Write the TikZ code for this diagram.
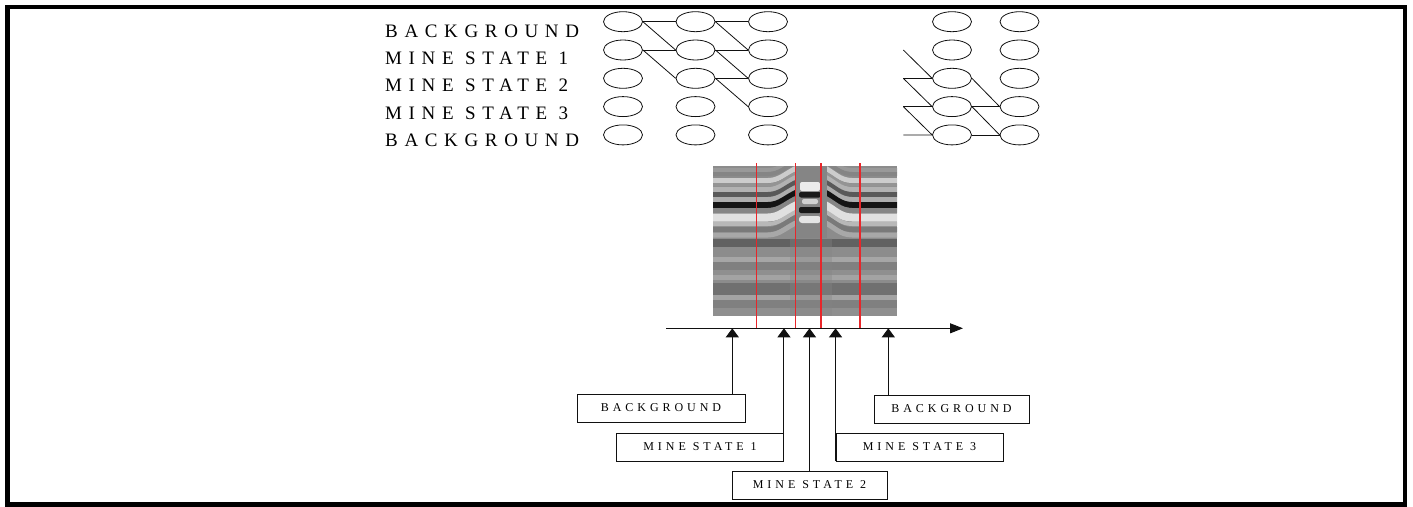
\documentclass[tikz,border=0pt]{standalone}
\usepackage{fontspec}
\setmainfont{Liberation Serif}
\newfontfamily\spacedfont[LetterSpace=35]{Liberation Serif}
\newfontfamily\tagfont[LetterSpace=33]{Liberation Serif}
\usepackage{xcolor}
\usepackage{tikz}
\usetikzlibrary{arrows.meta,positioning,shapes.geometric}
\definecolor{inkblack}{HTML}{111111}
\definecolor{cutred}{HTML}{E8262A}

\begin{document}
\begin{tikzpicture}[
    x=1pt, y=-1pt,
    rowlabel/.style={anchor=west, inner sep=0pt, font=\spacedfont\fontsize{19}{21}\selectfont},
    cell/.style={ellipse, draw=inkblack, line width=0.8pt, minimum width=39pt, minimum height=20pt, inner sep=0pt},
    link/.style={draw=inkblack, line width=0.8pt},
    tag/.style={rectangle, draw=inkblack, line width=0.9pt, minimum height=28pt, inner sep=0pt, font=\tagfont\fontsize{12}{14}\selectfont},
    pointer/.style={-{Triangle[length=9pt,width=13pt]}, line width=1pt, inkblack},
    cut/.style={cutred, line width=1.3pt}
]
\useasboundingbox (0,0) rectangle (1413,506);

% State labels
\node[rowlabel] (lab1) at (385,31) {BACKGROUND};
\node[rowlabel] (lab2) at (385,58.5) {MINE STATE 1};
\node[rowlabel] (lab3) at (385,85) {MINE STATE 2};
\node[rowlabel] (lab4) at (385,113) {MINE STATE 3};
\node[rowlabel] (lab5) at (385,140) {BACKGROUND};

% Left trellis
\foreach \c/\xx in {1/623,2/695.5,3/768} {
  \foreach \r in {1,...,5} {
    \node[cell] (L\c\r) at (\xx,{21.7+28.3*(\r-1)}) {};
  }
}
\foreach \a/\b in {L11/L21,L11/L22,L12/L22,L12/L23,L21/L31,L21/L32,L22/L32,L22/L33,L23/L33,L23/L34}
  \draw[link] (\a.east) -- (\b.west);

% Right trellis
\foreach \c/\xx in {1/952,2/1019.5} {
  \foreach \r in {1,...,5} {
    \node[cell] (R\c\r) at (\xx,{21.7+28.3*(\r-1)}) {};
  }
}
\coordinate (in2) at (903.3,50);
\coordinate (in3) at (903.3,78.3);
\coordinate (in4) at (903.3,106.6);
\coordinate (in5) at (903.3,134.9);
\draw[link] (in2) -- (R13.west);
\draw[link] (in3) -- (R13.west);
\draw[link] (in3) -- (R14.west);
\draw[link] (in4) -- (R14.west);
\draw[link] (in4) -- (R15.west);
\draw[link] (in5) -- (R15.west);
\foreach \a/\b in {R13/R24,R14/R24,R14/R25,R15/R25}
  \draw[link] (\a.east) -- (\b.west);

% Radargram
\begin{scope}
  \clip (713,166) rectangle (897,316);
  \fill[black!45] (713,166) rectangle (897,316);
  % flat lower bands
  \foreach \yy/\ww/\dd in {242.5/8/62,251/8/45,259.5/5/35,266/8/50,272.5/5/44,277.5/5/36,288.5/12/56,297.5/5/36,304/8/50,312/8/44}
    \draw[line width=\ww pt, black!\dd] (713,\yy) -- (897,\yy);
  % upper bands bending up over the target
  \foreach \yy/\ww/\dd in {170/4/40,174/4/48,180.5/5/20,185/3/42,189.5/5/30,194.5/5/65,199.5/5/32,205/6/92,210.5/5/48,217.5/8/12,224/4/28,229.5/5/52,235/5/34} {
    \draw[line width=\ww pt, black!\dd] (713,\yy) -- (768,\yy) .. controls (780,\yy) and (786,\yy-8) .. (798,\yy-13);
    \draw[line width=\ww pt, black!\dd] (897,\yy) -- (852,\yy) .. controls (840,\yy) and (834,\yy-8) .. (824,\yy-13);
  }
  % target column
  \fill[black!48] (795,166) rectangle (827,238);
  \fill[black!48, opacity=0.35] (790,238) rectangle (832,316);
  \fill[black!8, rounded corners=2pt] (800,182) rectangle (820,191);
  \fill[black!90, rounded corners=2pt] (799,192) rectangle (821,197.5);
  \fill[black!18, rounded corners=2pt] (802,199) rectangle (818,204);
  \fill[black!90, rounded corners=2pt] (799,207) rectangle (821,213);
  \fill[black!10, rounded corners=3pt] (799,216) rectangle (821,223);
\end{scope}

% Segment boundaries
\foreach \xx in {756.7,795.7,821,860}
  \draw[cut] (\xx,163) -- (\xx,328);

% Scan axis
\coordinate (axisL) at (666,328.3);
\coordinate (axisR) at (963,328.3);
\draw[-{Triangle[length=13pt,width=10pt]}, line width=1pt, inkblack] (axisL) -- (axisR);
\coordinate (t1) at (732.3,328.3);
\coordinate (t5) at (888.3,328.3);

% Segment tags
\node[tag, minimum width=168pt] (bgA) at (661,408) {BACKGROUND};
\node[tag, minimum width=167pt] (ms1) at (700,447) {MINE STATE 1};
\node[tag, minimum width=155pt] (ms2) at (809.5,485) {MINE STATE 2};
\node[tag, minimum width=167pt] (ms3) at (919.5,447) {MINE STATE 3};
\node[tag, minimum width=155pt] (bgB) at (951.5,409) {BACKGROUND};

\draw[pointer] (bgA.north -| t1) -- (t1);
\draw[pointer] (ms1.south east) -- (ms1.east |- axisL);
\draw[pointer] (ms2.north) -- (ms2.north |- axisL);
\draw[pointer] (ms3.south west) -- (ms3.west |- axisL);
\draw[pointer] (bgB.north -| t5) -- (t5);

% Frame
\draw[line width=4.5pt] (7.5,7) rectangle (1405,504.5);

\end{tikzpicture}
\end{document}
